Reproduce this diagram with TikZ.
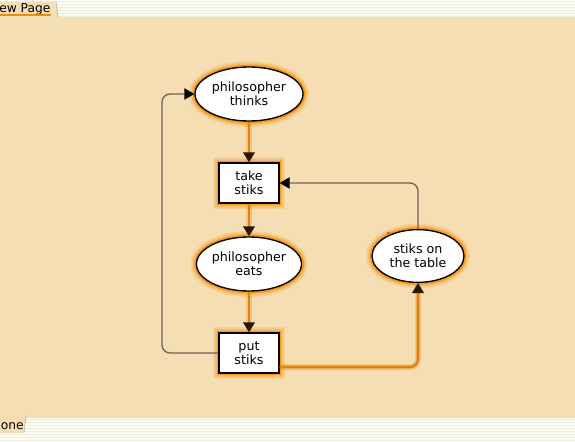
\documentclass[tikz,border=0pt]{standalone}
\usepackage{fontspec}
\setmainfont{DejaVu Sans}
\usetikzlibrary{shapes.geometric,arrows.meta}
\definecolor{canvas}{HTML}{F5DEB3}
\definecolor{glow}{HTML}{F7920F}
\definecolor{flowc}{HTML}{D88418}
\definecolor{linkc}{HTML}{6E6152}
\definecolor{tipc}{HTML}{2A1600}
\definecolor{stripeA}{HTML}{FCFBF4}
\definecolor{stripeB}{HTML}{EEEDE1}
\definecolor{tabline}{HTML}{F08A10}
\definecolor{marker}{HTML}{D0664A}
\begin{document}
\begin{tikzpicture}[x=0.75pt,y=-0.75pt,
  halo/.style={preaction={draw=glow,draw opacity=0.18,line width=9pt},
               preaction={draw=glow,draw opacity=0.35,line width=6pt},
               preaction={draw=glow,draw opacity=0.9,line width=3.4pt}},
  label/.style={font=\fontsize{9.5}{10.5}\selectfont,align=center},
  place/.style={ellipse,draw=black,line width=1pt,fill=white,inner sep=0pt,halo,label},
  trans/.style={rectangle,draw=black,line width=1pt,fill=white,inner sep=0pt,halo,label,
                minimum width=45pt,minimum height=30pt},
  flow/.style={draw=flowc,line width=1.9pt,rounded corners=6pt,
               preaction={draw=glow,draw opacity=0.35,line width=4.5pt,arrows=-},
               -{Triangle[width=8.5pt,length=7.5pt,color=tipc]}},
  link/.style={draw=linkc,line width=1pt,rounded corners=6pt,
               -{Triangle[width=8.5pt,length=7.5pt,color=black]}},
  tabtext/.style={font=\fontsize{9.2}{10}\selectfont,inner sep=0pt,anchor=base west}]

% canvas and frame
\useasboundingbox (0,0) rectangle (575,442);
\fill[canvas] (0,0) rectangle (575,442);

% striped title bar
\fill[stripeA] (0,0) rectangle (575,17);
\foreach \s in {1,4,...,16} \fill[stripeB] (0,\s) rectangle (575,\s+1.2);
\fill[canvas] (0,2) -- (56,2) -- (58,17) -- (0,17) -- cycle;
\draw[black!25,line width=0.6pt] (56,2) -- (58,17);
\node[tabtext] (pagetab) at (-1,12.5) {ew Page};
\fill[tabline] (0,14.5) rectangle (51,16.5);

% striped status bar
\fill[stripeA] (0,417) rectangle (575,442);
\foreach \s in {419,422,...,441} \fill[stripeB] (0,\s) rectangle (575,\s+1.2);
\draw[black!12,line width=0.6pt] (0,417) -- (575,417);
\fill[canvas] (0,416) -- (26,416) -- (24,433) -- (0,433) -- cycle;
\draw[black!25,line width=0.6pt] (26,416) -- (24,433);
\node[tabtext] (statustab) at (0.5,429) {one};

% places and transitions
\node[place,minimum width=81pt,minimum height=40.5pt] (thinks) at (249,94) {philosopher\\thinks};
\node[trans] (take) at (249,183) {take\\stiks};
\node[place,minimum width=75pt,minimum height=40.5pt] (eats) at (249,264) {philosopher\\eats};
\node[trans] (put) at (249,353) {put\\stiks};
\node[place,minimum width=69pt,minimum height=39.5pt] (table) at (418,256) {stiks on\\the table};
\fill[marker] (386.5,232.5) rectangle (389.5,235.5);

% arcs
\coordinate (loop) at (162,0);
\draw[flow] (thinks) -- (take);
\draw[flow] (take) -- (eats);
\draw[flow] (eats) -- (put);
\draw[flow] ([yshift=-10.5pt]put.east) -| (table.south);
\draw[link] (put.west) -| (loop |- thinks.west) -- (thinks.west);
\draw[link] (table.north) |- (take.east);
\end{tikzpicture}
\end{document}
